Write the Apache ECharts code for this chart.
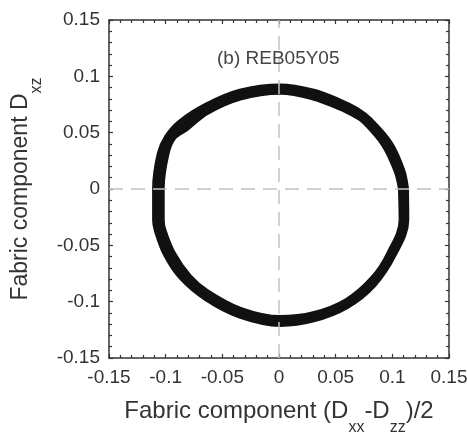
<!DOCTYPE html>
<html>
<head>
<meta charset="utf-8">
<script src="https://cdn.jsdelivr.net/npm/echarts@6/dist/echarts.min.js"></script>
<style>
  html, body { margin: 0; padding: 0; background: #ffffff; }
  #chart { width: 467px; height: 436px; }
</style>
</head>
<body>
<div id="chart"></div>
<script>
// Axis ranges and tick labels (both axes share the same range)
const AXIS_MIN = -0.15;
const AXIS_MAX = 0.15;
const AXIS_STEP = 0.05;
const xTickLabels = ['-0.15', '-0.1', '-0.05', '0', '0.05', '0.1', '0.15'];
const yTickLabels = ['-0.15', '-0.1', '-0.05', '0', '0.05', '0.1', '0.15'];

const panelTitle = '(b) REB05Y05';

// Fabric trajectory [(Dxx-Dzz)/2, Dxz] over repeated cycles — outer cycle
const cycleOuter = [
  [0.1118, 0.0004], [0.1085, 0.0165], [0.0978, 0.0402], [0.0801, 0.0609],
  [0.0686, 0.0699], [0.0539, 0.0773], [0.0304, 0.0861], [0.0010, 0.0908],
  [-0.0343, 0.0861], [-0.0638, 0.0739], [-0.0870, 0.0590], [-0.0985, 0.0461],
  [-0.1050, 0.0313], [-0.1091, 0.0004], [-0.1091, -0.0278], [-0.1076, -0.0366],
  [-0.0999, -0.0573], [-0.0862, -0.0780], [-0.0638, -0.0970], [-0.0343, -0.1122],
  [0.0010, -0.1195], [0.0304, -0.1155], [0.0598, -0.1037], [0.0833, -0.0848],
  [0.1015, -0.0573], [0.1121, -0.0278], [0.1118, 0.0004]
];

// Middle cycle
const cycleMiddle = [
  [0.1098, 0.0004], [0.1062, 0.0165], [0.0951, 0.0402], [0.0775, 0.0609],
  [0.0686, 0.0675], [0.0539, 0.0749], [0.0304, 0.0838], [0.0010, 0.0887],
  [-0.0343, 0.0838], [-0.0638, 0.0712], [-0.0845, 0.0565], [-0.0959, 0.0461],
  [-0.1022, 0.0313], [-0.1064, 0.0004], [-0.1064, -0.0278], [-0.1049, -0.0366],
  [-0.0969, -0.0573], [-0.0829, -0.0780], [-0.0638, -0.0943], [-0.0343, -0.1098],
  [0.0010, -0.1172], [0.0304, -0.1135], [0.0598, -0.1017], [0.0833, -0.0820],
  [0.0995, -0.0573], [0.1102, -0.0278], [0.1098, 0.0004]
];

// Inner cycle
const cycleInner = [
  [0.1078, 0.0004], [0.1038, 0.0165], [0.0924, 0.0402], [0.0748, 0.0609],
  [0.0686, 0.0651], [0.0539, 0.0725], [0.0304, 0.0814], [0.0010, 0.0865],
  [-0.0343, 0.0814], [-0.0638, 0.0685], [-0.0820, 0.0540], [-0.0932, 0.0461],
  [-0.0995, 0.0313], [-0.1037, 0.0004], [-0.1037, -0.0278], [-0.1022, -0.0366],
  [-0.0938, -0.0573], [-0.0795, -0.0780], [-0.0638, -0.0916], [-0.0343, -0.1074],
  [0.0010, -0.1148], [0.0304, -0.1114], [0.0598, -0.0996], [0.0833, -0.0792],
  [0.0975, -0.0573], [0.1084, -0.0278], [0.1078, 0.0004]
];

const FONT = '"Liberation Sans", Arial, Helvetica, sans-serif';
const TEXT_COLOR = '#333333';
const FRAME_COLOR = '#333333';

function tickFormatter(labels) {
  return function (v) {
    const i = Math.round((v - AXIS_MIN) / AXIS_STEP);
    return labels[i] !== undefined ? labels[i] : '';
  };
}

function frameAxis(extra) {
  return Object.assign({
    type: 'value',
    min: AXIS_MIN,
    max: AXIS_MAX,
    interval: AXIS_STEP,
    axisLine: { show: true, onZero: false, lineStyle: { color: FRAME_COLOR, width: 1.5 } },
    axisTick: { show: true, inside: true, length: 4, lineStyle: { color: FRAME_COLOR, width: 1.2 } },
    minorTick: { show: true, splitNumber: 5, length: 3, lineStyle: { color: FRAME_COLOR, width: 1.2 } },
    splitLine: { show: false },
    minorSplitLine: { show: false }
  }, extra);
}

function subStyle(size) {
  return { fontSize: size, color: TEXT_COLOR, fontFamily: FONT, padding: [33, 0, 0, 0] };
}

function cycleSeries(data, width) {
  return {
    type: 'line',
    data: data,
    xAxisIndex: 0, yAxisIndex: 0,
    showSymbol: false,
    smooth: 0.35,
    lineStyle: { color: '#111111', width: width },
    z: 2
  };
}

const option = {
  backgroundColor: '#ffffff',
  animation: false,
  title: {
    text: panelTitle,
    left: 212,
    top: 44,
    textStyle: { fontSize: 19, fontWeight: 'normal', color: '#444444', fontFamily: FONT }
  },
  grid: { left: 109, top: 20, width: 340, height: 338, outerBoundsMode: 'none' },
  xAxis: [
    frameAxis({
      position: 'bottom',
      name: 'Fabric component (D{s|xx}-D{s|zz})/2',
      nameLocation: 'middle',
      nameGap: 29,
      nameMoveOverlap: false,
      nameTextStyle: { fontSize: 24, color: TEXT_COLOR, fontFamily: FONT, rich: { s: subStyle(16) } },
      axisLabel: { fontSize: 19, color: TEXT_COLOR, fontFamily: FONT, margin: 10, formatter: tickFormatter(xTickLabels) }
    }),
    frameAxis({ position: 'top', axisLabel: { show: false } })
  ],
  yAxis: [
    frameAxis({
      position: 'left',
      name: 'Fabric component D{s|xz}',
      nameLocation: 'middle',
      nameGap: 64,
      nameMoveOverlap: false,
      nameTextStyle: { fontSize: 23, color: TEXT_COLOR, fontFamily: FONT, rich: { s: subStyle(16) } },
      axisLabel: { fontSize: 19, color: TEXT_COLOR, fontFamily: FONT, margin: 9, formatter: tickFormatter(yTickLabels) }
    }),
    frameAxis({ position: 'right', axisLabel: { show: false } })
  ],
  series: [
    cycleSeries(cycleOuter, 6.5),
    cycleSeries(cycleMiddle, 5),
    cycleSeries(cycleInner, 6.5),
    {
      // Dashed zero reference lines drawn over the trajectory
      type: 'line',
      data: [],
      xAxisIndex: 0, yAxisIndex: 0,
      z: 5,
      markLine: {
        silent: true,
        symbol: ['none', 'none'],
        label: { show: false },
        lineStyle: { color: '#c4c4c4', type: [14, 8], width: 1.5 },
        data: [{ xAxis: 0 }, { yAxis: 0 }]
      }
    }
  ]
};

const chart = echarts.init(document.getElementById('chart'), null, { renderer: 'canvas' });
chart.setOption(option);
</script>
</body>
</html>
